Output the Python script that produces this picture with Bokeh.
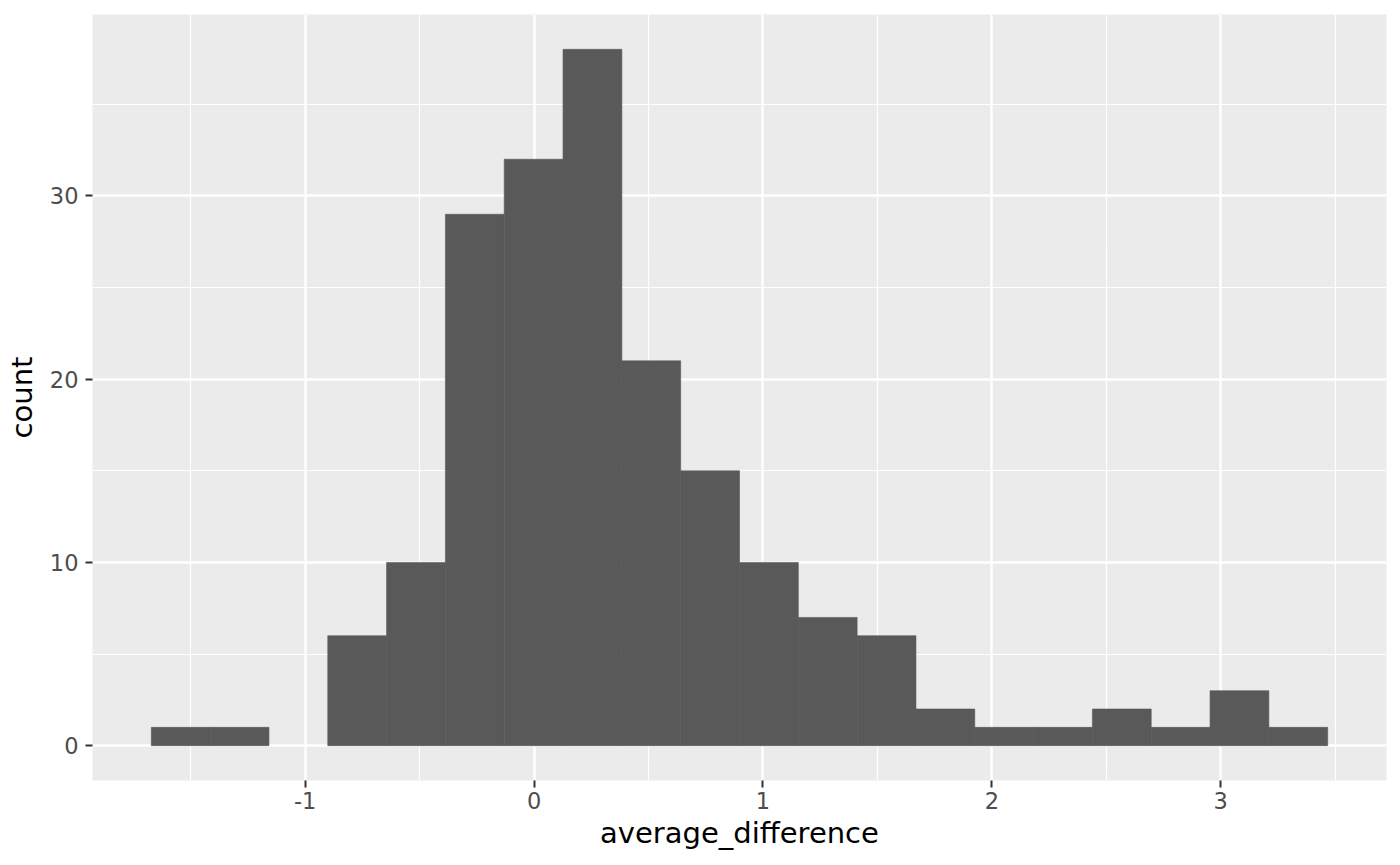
from bokeh.plotting import figure
from bokeh.models import Range1d, FixedTicker, ColumnDataSource
from bokeh.embed import file_html
from bokeh.resources import INLINE

# Histogram data
bin_start = -1.672
bin_width = 0.25695
counts = [1, 1, 0, 6, 10, 29, 32, 38, 21, 15, 10, 7, 6, 2, 1, 1, 2, 1, 3, 1]
x_ticks = [-1, 0, 1, 2, 3]
x_minor = [-1.5, -0.5, 0.5, 1.5, 2.5, 3.5]
y_ticks = [0, 10, 20, 30]
y_minor = [5, 15, 25, 35]

lefts = [bin_start + i * bin_width for i in range(len(counts))]
rights = [l + bin_width for l in lefts]
keep = [i for i, c in enumerate(counts) if c > 0]
src = ColumnDataSource(dict(left=[lefts[i] for i in keep],
                            right=[rights[i] for i in keep],
                            top=[counts[i] for i in keep],
                            bottom=[0] * len(keep)))

x_lo, x_hi = bin_start, bin_start + bin_width * len(counts)
pad_x = (x_hi - x_lo) * 0.05
y_hi = max(counts)
pad_y = y_hi * 0.05

p = figure(width=1400, height=865, output_backend="svg", toolbar_location=None,
           x_range=Range1d(x_lo - pad_x, x_hi + pad_x),
           y_range=Range1d(-pad_y, y_hi + pad_y),
           min_border_left=92, min_border_right=14, min_border_top=14,
           min_border_bottom=85)

p.background_fill_color = "#EBEBEB"
p.border_fill_color = "white"
p.outline_line_color = None

p.quad(left="left", right="right", top="top", bottom="bottom", source=src,
       fill_color="#595959", line_color="#595959", line_width=0.6)

p.xaxis.ticker = FixedTicker(ticks=x_ticks, minor_ticks=x_minor)
p.yaxis.ticker = FixedTicker(ticks=y_ticks, minor_ticks=y_minor)
p.xaxis.major_label_overrides = {t: str(t) for t in x_ticks}
p.yaxis.major_label_overrides = {t: str(t) for t in y_ticks}

for g in [p.xgrid[0], p.ygrid[0]]:
    g.grid_line_color = "white"
    g.grid_line_width = 2.4
    g.minor_grid_line_color = "white"
    g.minor_grid_line_width = 1.2

for ax in [p.xaxis[0], p.yaxis[0]]:
    ax.axis_line_color = None
    ax.major_tick_line_color = "#333333"
    ax.major_tick_line_width = 2
    ax.major_tick_out = 7
    ax.major_tick_in = 0
    ax.minor_tick_line_color = None
    ax.major_label_text_font = "DejaVu Sans"
    ax.major_label_text_font_size = "22.5px"
    ax.major_label_text_color = "#4D4D4D"
    ax.axis_label_text_font = "DejaVu Sans"
    ax.axis_label_text_font_size = "29px"
    ax.axis_label_text_font_style = "normal"
    ax.axis_label_text_color = "black"

p.xaxis.axis_label = "average_difference"
p.yaxis.axis_label = "count"
p.xaxis.major_label_standoff = 4
p.yaxis.major_label_standoff = 7
p.xaxis.axis_label_standoff = 4
p.yaxis.axis_label_standoff = 8

open("out.html", "w").write(file_html(p, INLINE))
